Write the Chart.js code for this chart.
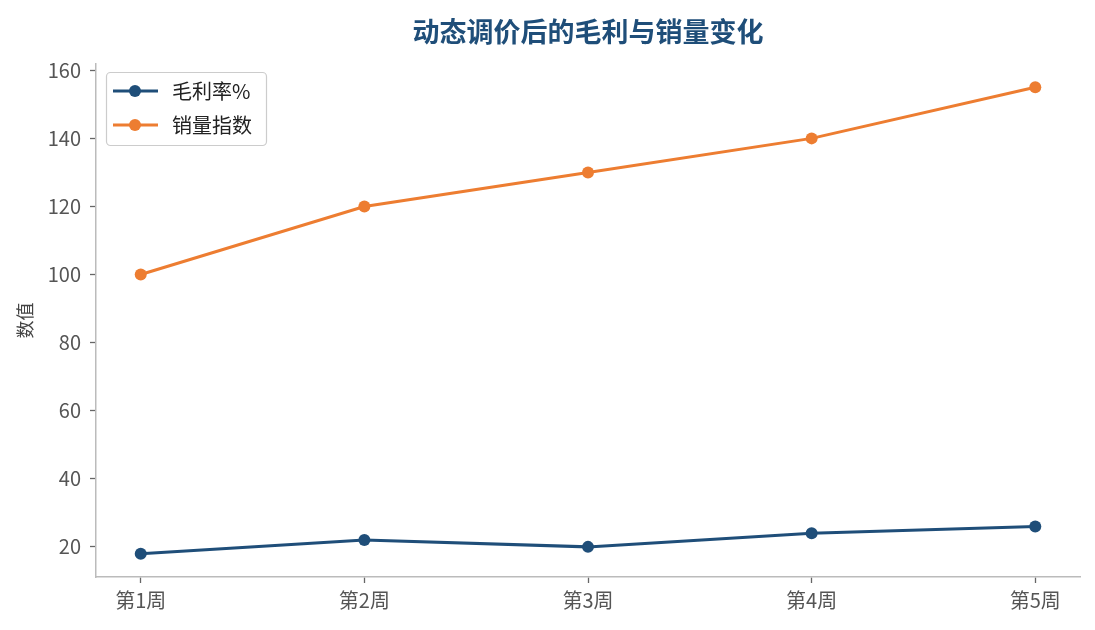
<!DOCTYPE html>
<html>
<head>
<meta charset="utf-8">
<script src="https://cdn.jsdelivr.net/npm/chart.js@4"></script>
<style>
  html, body { margin: 0; padding: 0; background: #fff; }
  #wrap { width: 1095px; height: 630px; }
</style>
</head>
<body>
<div id="wrap"><canvas id="myChart"></canvas></div>
<script>
var weeks = ['第1周', '第2周', '第3周', '第4周', '第5周'];
var margin_rate = [18, 22, 20, 24, 26];     // 毛利率%
var sales_index = [100, 120, 130, 140, 155]; // 销量指数
var y_ticks = [20, 40, 60, 80, 100, 120, 140, 160];

var font_cjk = '"Noto Sans CJK SC", "Noto Sans", sans-serif';

function toPoints(arr) {
    return arr.map(function (v, i) { return { x: i, y: v }; });
}

// 仿 matplotlib 的图例框（线 + 圆点）
var boxLegend = {
    id: 'boxLegend',
    afterDraw: function (chart) {
        var ctx = chart.ctx;
        var area = chart.chartArea;
        var x0 = area.left + 10, y0 = area.top + 8;
        var w = 160, h = 73;
        ctx.save();
        ctx.fillStyle = 'rgba(255,255,255,0.85)';
        ctx.strokeStyle = '#cccccc';
        ctx.lineWidth = 1.2;
        ctx.beginPath();
        ctx.roundRect(x0 + 0.5, y0 + 0.5, w, h, 4);
        ctx.fill();
        ctx.stroke();
        chart.data.datasets.forEach(function (ds, i) {
            var cy = y0 + 19 + i * 34;
            ctx.strokeStyle = ds.borderColor;
            ctx.lineWidth = 3;
            ctx.beginPath();
            ctx.moveTo(x0 + 7, cy);
            ctx.lineTo(x0 + 52, cy);
            ctx.stroke();
            ctx.fillStyle = ds.borderColor;
            ctx.beginPath();
            ctx.arc(x0 + 29, cy, 6, 0, Math.PI * 2);
            ctx.fill();
            ctx.fillStyle = '#222';
            ctx.font = '20px ' + font_cjk;
            ctx.textBaseline = 'middle';
            ctx.fillText(ds.label, x0 + 66, cy);
        });
        ctx.restore();
    }
};

const ctx = document.getElementById('myChart');
const myChart = new Chart(ctx, {
    type: 'line',
    data: {
        datasets: [{
            label: '毛利率%',
            data: toPoints(margin_rate),
            borderColor: '#1f4e79',
            backgroundColor: '#1f4e79',
            borderWidth: 3,
            pointRadius: 6,
            pointHoverRadius: 6,
            pointBorderWidth: 0
        }, {
            label: '销量指数',
            data: toPoints(sales_index),
            borderColor: '#ed7d31',
            backgroundColor: '#ed7d31',
            borderWidth: 3,
            pointRadius: 6,
            pointHoverRadius: 6,
            pointBorderWidth: 0
        }]
    },
    options: {
        responsive: true,
        maintainAspectRatio: false,
        animation: false,
        layout: { padding: { left: 0, right: 15, top: 0, bottom: 0 } },
        plugins: {
            legend: { display: false },
            tooltip: { enabled: false },
            title: {
                display: true,
                fullSize: false,
                text: '动态调价后的毛利与销量变化',
                color: '#1f4e79',
                font: { family: font_cjk, size: 27, weight: 'bold' },
                padding: { top: 15.5, bottom: 16.1 }
            }
        },
        scales: {
            x: {
                type: 'linear',
                min: -0.2,
                max: 4.2,
                afterBuildTicks: function (scale) {
                    scale.ticks = weeks.map(function (_, i) { return { value: i }; });
                },
                afterFit: function (scale) { scale.height = 53; },
                ticks: {
                    color: '#555',
                    font: { family: font_cjk, size: 20 },
                    padding: 5,
                    callback: function (v) { return weeks[v]; }
                },
                grid: { drawOnChartArea: false, tickLength: 6, tickColor: '#666', tickWidth: 1.3 },
                border: { color: '#bbbbbb', width: 1.5 }
            },
            y: {
                min: 11.15,
                max: 161.85,
                afterBuildTicks: function (scale) {
                    scale.ticks = y_ticks.map(function (v) { return { value: v }; });
                },
                afterFit: function (scale) { scale.width = 96; },
                ticks: {
                    color: '#555',
                    font: { family: font_cjk, size: 20 },
                    padding: 9
                },
                title: {
                    display: true,
                    text: '数值',
                    color: '#444',
                    font: { family: font_cjk, size: 18 },
                    padding: { top: 14, bottom: 0 }
                },
                grid: { drawOnChartArea: false, tickLength: 6, tickColor: '#666', tickWidth: 1.3 },
                border: { color: '#bbbbbb', width: 1.5 }
            }
        }
    },
    plugins: [boxLegend]
});
myChart.update();
</script>
</body>
</html>
